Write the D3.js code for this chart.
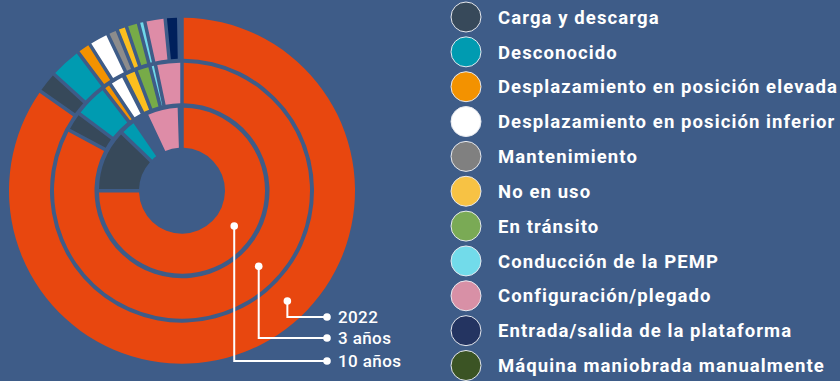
<!DOCTYPE html>
<html>
<head>
<meta charset="utf-8">
<script src="https://cdn.jsdelivr.net/npm/d3@7/dist/d3.min.js"></script>
<style>
  html, body { margin: 0; padding: 0; background: #3e5c88; }
  svg { display: block; }
</style>
</head>
<body>
<svg id="chart" width="840" height="381"></svg>
<script>
// ---- data ----
const categories = [
  "Otros",
  "Carga y descarga",
  "Desconocido",
  "Desplazamiento en posición elevada",
  "Desplazamiento en posición inferior",
  "Mantenimiento",
  "No en uso",
  "En tránsito",
  "Conducción de la PEMP",
  "Configuración/plegado",
  "Entrada/salida de la plataforma",
  "Máquina maniobrada manualmente"
];
const legendCategories = categories.slice(1);
const colors = ["#e8470f", "#37495a", "#009bb1", "#f39200", "#ffffff", "#8c8c8c",
                "#fcbf1e", "#77ab48", "#6fd9ea", "#de8ca7", "#00205c", "#3b5424"];
const legendColors = ["#37495a", "#009bb1", "#f39200", "#ffffff", "#808080",
                      "#f7c244", "#7aaa55", "#72dbea", "#d890a6", "#243461", "#3b5424"];
const values2022 = [84.75, 2.0, 3.0, 1.3, 1.9, 0.95, 0.9, 1.15, 0.6, 1.9, 1.25, 0.3];
const values3 =    [82.5, 2.4, 4.3, 1.0, 1.9, 0.1, 1.6, 1.8, 0.7, 3.3, 0, 0];
const values10 =   [75.0, 12.2, 3.2, 0.5, 0.5, 0.2, 0.4, 0.6, 0.4, 6.5, 0.3, 0.2];
const ringLabels = ["2022", "3 años", "10 años"];

// ---- layout ----
const bg = "#3e5c88";
const cx = 182, cy = 190.7;
const rings = [
  { values: values2022, r0: 132, r1: 173, label: ringLabels[0], ang: 136.3, yEnd: 317 },
  { values: values3,    r0: 87.5, r1: 128, label: ringLabels[1], ang: 134.6, yEnd: 338 },
  { values: values10,   r0: 43,  r1: 83,  label: ringLabels[2], ang: 124,   yEnd: 361 }
];

const svg = d3.select("#chart");
svg.append("rect").attr("width", 840).attr("height", 381).attr("fill", bg);

const pie = d3.pie().sort(null).value(d => d);
const g = svg.append("g").attr("transform", `translate(${cx},${cy})`);

rings.forEach(ring => {
  const arc = d3.arc()
    .innerRadius(ring.r0).outerRadius(ring.r1)
    .padAngle(0.035).padRadius(100);
  g.append("g").selectAll("path")
    .data(pie(ring.values))
    .join("path")
    .attr("d", arc)
    .attr("fill", (d, i) => colors[i]);
});

// ---- callouts ----
const xEnd = 327, labelX = 338;
const co = svg.append("g");
rings.forEach(ring => {
  const rm = (ring.r0 + ring.r1) / 2;
  const a = ring.ang * Math.PI / 180;
  const px = cx + rm * Math.sin(a);
  const py = cy - rm * Math.cos(a);
  co.append("path")
    .attr("d", `M${px},${py}V${ring.yEnd}H${xEnd}`)
    .attr("fill", "none").attr("stroke", "#fff").attr("stroke-width", 2);
  co.append("circle").attr("cx", px).attr("cy", py).attr("r", 3.8).attr("fill", "#fff");
  co.append("circle").attr("cx", xEnd).attr("cy", ring.yEnd).attr("r", 3.8).attr("fill", "#fff");
  co.append("text")
    .attr("x", labelX).attr("y", ring.yEnd)
    .attr("dy", "0.36em")
    .attr("fill", "#fff")
    .attr("font-family", "Roboto, 'DejaVu Sans', sans-serif")
    .attr("font-weight", 500)
    .attr("font-size", 17)
    .attr("letter-spacing", 0.4)
    .text(ring.label);
});

// ---- legend ----
const legendY = d3.scaleLinear().domain([0, 10]).range([17, 365.5]);
const lg = svg.append("g");
const items = lg.selectAll("g").data(legendCategories).join("g")
  .attr("transform", (d, i) => `translate(466,${legendY(i)})`);
items.append("circle").attr("r", 15)
  .attr("fill", (d, i) => legendColors[i])
  .attr("stroke", "#e6e9ef").attr("stroke-width", 1);
const texts = items.append("text")
  .attr("x", 32).attr("dy", "0.36em")
  .attr("fill", "#fff")
  .attr("font-family", "Roboto, 'DejaVu Sans', sans-serif")
  .attr("font-weight", 700)
  .attr("font-size", 18.5)
  .text(d => d);
// fit letter spacing so the longest entry spans ~340px like the original
const longest = texts.filter((d, i) => i === 2).node();
const baseW = longest.getComputedTextLength();
const nChars = legendCategories[2].length;
const ls = Math.max(0, (340 - baseW) / nChars);
texts.attr("letter-spacing", ls);
</script>
</body>
</html>
